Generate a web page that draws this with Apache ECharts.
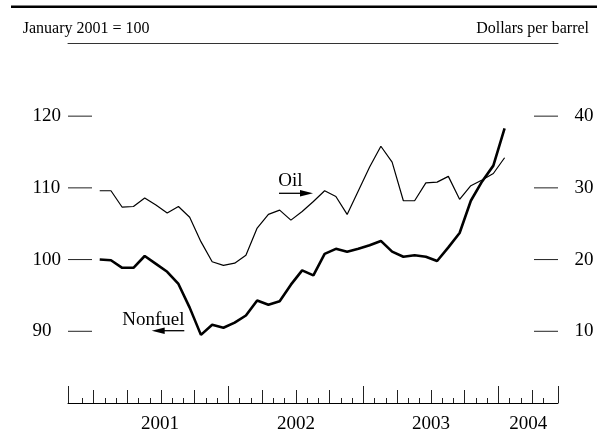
<!DOCTYPE html>
<html>
<head>
<meta charset="utf-8">
<script src="https://cdn.jsdelivr.net/npm/echarts@6/dist/echarts.min.js"></script>
<style>
html, body { margin: 0; padding: 0; background: #fff; }
#chart { width: 597px; height: 434px; }
</style>
</head>
<body>
<div id="chart"></div>
<script>
// monthly observations, Jan 2001 .. Jan 2004
var months = [
    '2001-01', '2001-02', '2001-03', '2001-04', '2001-05', '2001-06',
    '2001-07', '2001-08', '2001-09', '2001-10', '2001-11', '2001-12',
    '2002-01', '2002-02', '2002-03', '2002-04', '2002-05', '2002-06',
    '2002-07', '2002-08', '2002-09', '2002-10', '2002-11', '2002-12',
    '2003-01', '2003-02', '2003-03', '2003-04', '2003-05', '2003-06',
    '2003-07', '2003-08', '2003-09', '2003-10', '2003-11', '2003-12',
    '2004-01'
];
// nonfuel commodity index, January 2001 = 100 (left scale)
var nonfuel = [
    100.0, 99.9, 98.85, 98.85, 100.5, 99.4, 98.3, 96.6, 93.3, 89.5, 90.9, 90.5,
    91.2, 92.2, 94.3, 93.7, 94.2, 96.5, 98.5, 97.8, 100.8, 101.5, 101.1, 101.5,
    102.0, 102.6, 101.1, 100.4, 100.6, 100.4, 99.8, 101.7, 103.7, 108.2, 110.9, 113.1,
    118.3
];
// oil, dollars per barrel (right scale)
var oil = [
    29.6, 29.6, 27.3, 27.4, 28.6, 27.6, 26.5, 27.4, 25.9, 22.5, 19.7, 19.2,
    19.5, 20.6, 24.4, 26.3, 26.9, 25.5, 26.7, 28.1, 29.6, 28.8, 26.3, 29.6,
    32.9, 35.8, 33.6, 28.2, 28.2, 30.7, 30.8, 31.6, 28.4, 30.3, 31.1, 32.0,
    34.2
];
var yearLabels = ['2001', '2002', '2003', '2004'];
var leftTicks = [90, 100, 110, 120];
var rightTicks = [10, 20, 30, 40];

var serif = 'Liberation Serif';
var xMin = -2.27, xMax = 41.3;   // months from Jan 2001

function monthPos(m) {
    var p = m.split('-');
    return (+p[0] - 2001) * 12 + (+p[1] - 1) + 0.55;
}

var shortTicks = [], midTicks = [], tallTicks = [xMin, xMax];
for (var k = -1; k <= 40; k++) {
    if (k % 12 === 0 && k > 0) tallTicks.push(k);
    else if (k % 3 === 0) midTicks.push(k);
    else shortTicks.push(k);
}
var yearPos = [5.9, 18, 30, 38.65];

var myChart = echarts.init(document.getElementById('chart'));

function xAx(pos, ticks, len, extra) {
    var a = {
        type: 'value', position: pos, min: xMin, max: xMax,
        axisLine: { show: false, lineStyle: { color: '#000', width: 1 } },
        axisTick: { show: ticks != null, inside: true, length: len, customValues: ticks || [],
                    lineStyle: { color: '#222', width: 1 } },
        axisLabel: { show: false },
        splitLine: { show: false }
    };
    return Object.assign(a, extra || {});
}

// short horizontal tick marks drawn inward from the plot edge
function yTickSeries(values, axisIdx, edge, dir) {
    return {
        type: 'custom', yAxisIndex: axisIdx, silent: true,
        data: values.map(function (v) { return [edge, v]; }),
        renderItem: function (params, api) {
            var p = api.coord([api.value(0), api.value(1)]);
            return {
                type: 'line',
                shape: { x1: p[0], y1: p[1], x2: p[0] + dir * 24, y2: p[1] },
                style: { stroke: '#222', lineWidth: 1 }
            };
        }
    };
}

var option = {
    animation: false,
    grid: { left: 68, right: 39, top: 43, bottom: 29 },
    xAxis: [
        xAx('bottom', shortTicks, 5, {
            axisLine: { show: true, lineStyle: { color: '#000', width: 1 } },
            axisLabel: {
                show: true, customValues: yearPos, margin: 12,
                fontFamily: serif, fontSize: 19, color: '#000',
                formatter: function (v) { return yearLabels[Math.floor(v / 12)]; }
            }
        }),
        xAx('bottom', midTicks, 13),
        xAx('bottom', tallTicks, 17),
        xAx('top', null, 0, { axisLine: { show: true, lineStyle: { color: '#333', width: 1 } } })
    ],
    yAxis: [
        {
            type: 'value', position: 'left', min: 80, max: 130.2,
            axisLine: { show: false }, axisTick: { show: false },
            axisLabel: { customValues: leftTicks, align: 'left', margin: 35.5,
                         fontFamily: serif, fontSize: 19, color: '#000' },
            splitLine: { show: false }
        },
        {
            type: 'value', position: 'right', min: 0, max: 50.2,
            axisLine: { show: false }, axisTick: { show: false },
            axisLabel: { customValues: rightTicks, margin: 16.5,
                         fontFamily: serif, fontSize: 19, color: '#000' },
            splitLine: { show: false }
        }
    ],
    series: [
        yTickSeries(leftTicks, 0, xMin, 1),
        yTickSeries(rightTicks, 1, xMax, -1),
        {
            name: 'Oil', type: 'line', yAxisIndex: 1, showSymbol: false,
            lineStyle: { color: '#000', width: 1.2 },
            data: months.map(function (m, i) { return [monthPos(m), oil[i]]; })
        },
        {
            name: 'Nonfuel', type: 'line', yAxisIndex: 0, showSymbol: false,
            lineStyle: { color: '#000', width: 2.6 },
            data: months.map(function (m, i) { return [monthPos(m), nonfuel[i]]; })
        }
    ],
    graphic: [
        { type: 'rect', shape: { x: 11, y: 5.5, width: 586, height: 2.6 }, style: { fill: '#000' } },
        { type: 'text', x: 22.7, y: 28.5, style: { text: 'January 2001 = 100', font: '16px "Liberation Serif"',
            fill: '#000', textAlign: 'left', textVerticalAlign: 'middle' } },
        { type: 'text', x: 589, y: 28.5, style: { text: 'Dollars per barrel', font: '16px "Liberation Serif"',
            fill: '#000', textAlign: 'right', textVerticalAlign: 'middle' } },
        // Oil label with arrow to the right scale
        { type: 'text', x: 278.3, y: 181, style: { text: 'Oil', font: '19px "Liberation Serif"',
            fill: '#000', textAlign: 'left', textVerticalAlign: 'middle' } },
        { type: 'line', shape: { x1: 279, y1: 193.3, x2: 301, y2: 193.3 }, style: { stroke: '#000', lineWidth: 1.3 } },
        { type: 'polygon', shape: { points: [[300, 190], [313, 193.3], [300, 196.6]] }, style: { fill: '#000' } },
        // Nonfuel label with arrow to the left scale
        { type: 'text', x: 122.3, y: 320, style: { text: 'Nonfuel', font: '19px "Liberation Serif"',
            fill: '#000', textAlign: 'left', textVerticalAlign: 'middle' } },
        { type: 'line', shape: { x1: 184.3, y1: 330.7, x2: 163.7, y2: 330.7 }, style: { stroke: '#000', lineWidth: 1.3 } },
        { type: 'polygon', shape: { points: [[164.7, 327.4], [151.7, 330.7], [164.7, 334]] }, style: { fill: '#000' } }
    ]
};
myChart.setOption(option);
</script>
</body>
</html>
